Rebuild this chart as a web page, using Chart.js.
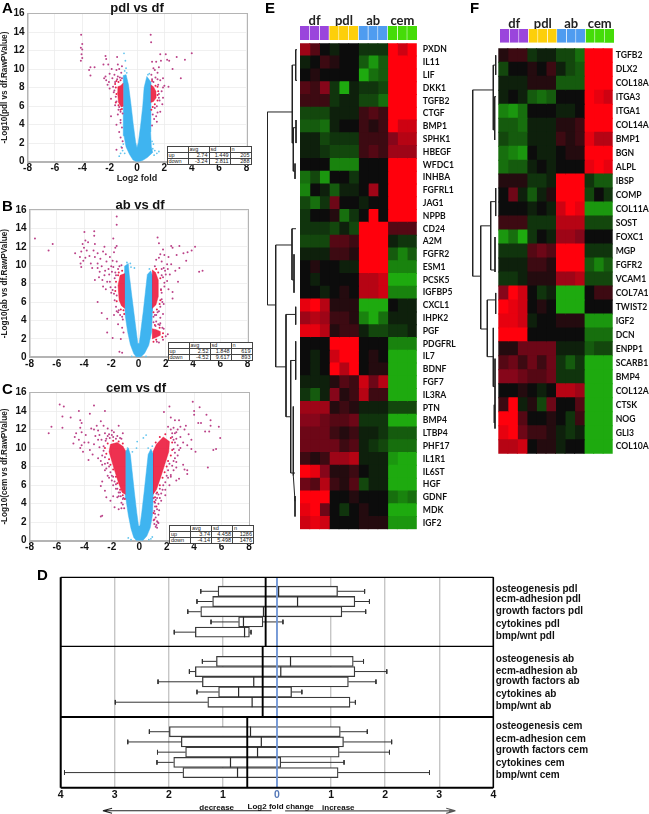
<!DOCTYPE html>
<html><head><meta charset="utf-8">
<script src="https://cdn.jsdelivr.net/npm/chart.js@4"></script>
<style>
html,body{margin:0;padding:0;background:#fff;width:649px;height:814px;overflow:hidden}
#page{position:absolute;left:0;top:0;width:649px;height:814px;filter:blur(0.35px);font-family:"Liberation Sans",Arial,sans-serif}
canvas{position:absolute}
.t{position:absolute;font-weight:bold;color:#111;white-space:nowrap;transform:translate(-50%,-50%)}
.l{position:absolute;font-weight:bold;color:#000;font-size:16px;line-height:16px}
table.s{position:absolute;border-collapse:collapse;font-size:5.5px;line-height:5px;table-layout:fixed;background:#fff;color:#222}
table.s td{border:0.8px solid #444;padding:0 1px;height:4.1px;width:18px;text-align:right;overflow:hidden;white-space:nowrap}
table.s td:first-child{text-align:left}
table.s tr:first-child td{text-align:left}
</style></head><body><div id="page"></div>
<script>
/* ---------- panel A-C: volcano plots ---------- */
const tableHead = ['', 'avg', 'sd', 'n'];
const statsA = [['up','2.74','1.449','205'],['down','-3.24','2.811','288']];
const statsB = [['up','2.52','1.848','619'],['down','-4.52','9.617','893']];
const statsC = [['up','3.74','4.458','1286'],['down','-4.14','5.498','1476']];

const coreA = [[-0.05,0],[-0.3,0.2],[-0.55,0.8],[-0.8,1.6],[-0.95,2.8],[-1.02,5],[-1.02,7.5],[-0.97,9.3],[-0.8,9.4],[-0.62,8.3],[-0.45,6.3],[-0.27,4],[-0.1,2.1],[0,1.5],[0.1,2.1],[0.27,4],[0.42,6],[0.52,8],[0.72,9.2],[1.02,8.6],[1.02,6],[0.97,3.2],[1.05,1.6],[1.15,1],[0.75,0.45],[0.4,0.12],[0.1,0]];
const looseA = [[-0.95,11.7],[-0.85,10.9],[-0.8,10.1],[-0.9,9.8],[-0.75,9.6],[0.9,9.5],[0.8,9.4],[1.15,1.4],[1.3,1.2],[1.45,0.9],[1.6,1.1],[1.25,0.7],[-1.05,1.2],[-1.2,0.9],[-0.9,0.9],[-1.3,0.6],[-1,1.9],[1.1,2.2],[1.2,1.9],[-1.15,1.6]];
const denseA = [[-1,6],[-1.15,5.9],[-1.35,6.4],[-1.42,7.5],[-1.4,8.1],[-1.2,8.2],[-1,8.5]];
const denseA2 = [[1,6.4],[1.2,6.5],[1.4,6.9],[1.38,7.6],[1.2,8.1],[1,8.3]];
const dotsA = [[-1.55,6.4],[-1.5,7.3],[-1.55,8],[-1.6,8.4],[-1.5,8.7],[-1.35,8.6],[-1.2,8.8],[-1.1,5.7],[-1.2,5.6],[-1.35,6.1],[1.5,7.2],[1.55,7.6],[1.5,6.6],[1.3,6.2],[1.15,5.9],[1.35,8.2],[1.5,8.1],[1.1,8.7],[1.05,5.6]];
const sigA = [[-4.08,13.7],[-4,12.7],[-4.1,12.3],[-4,12.1],[-4.05,11.6],[-4,11.2],[-4.1,10.9],[-3.4,10.2],[-3.5,9.9],[-3.1,10.2],[-3.4,9.3],[-2.3,11.4],[-2.25,11.1],[-2.1,10.5],[-2.45,10.5],[-1.45,11.3],[-1.4,10.5],[-2.3,9.2],[-2.25,8.8],[-2.15,8.3],[-2.4,9],[-2,7.9],[-2,9.5],[-1.85,10],[-1.8,9],[-1.75,8.1],[-1.7,7.5],[-1.65,9.4],[-1.6,8.6],[-1.55,7],[-1.5,9.9],[-1.5,6.5],[-1.45,8.9],[-1.4,9.2],[-1.35,5.6],[-1.3,5.9],[-1.3,10],[-1.25,9.1],[-1.2,5.4],[-1.15,9.6],[-1.1,10.3],[-1.6,6.1],[-1.9,6.8],[-2.05,8.6],[-1.9,4.9],[-1.5,4],[-1.4,5.1],[-1.3,3.2],[-1.2,4.5],[-1.1,3.7],[-1.2,2.6],[-1.05,2.2],[-1.5,1.3],[-1.1,1.5],[-1.65,7.7],[-1.2,4.2],[-1.05,5.2],[-1.1,9],
[1,13.7],[1.03,12.9],[4,11.7],[2.9,11.3],[3.5,11],[2.6,10],[3.2,9],[2.3,8.1],[1.9,8],[1.4,10.8],[1.7,11.6],[1.6,10.2],[1.75,10.9],[2.1,11.6],[2.2,11],[2.35,10.9],[1.2,10.1],[1.5,9.6],[1.35,9.1],[1.1,8.9],[1.7,8.8],[1.9,9],[2,8.2],[1.55,8.3],[1.2,8.6],[1.8,7.6],[1.6,7.3],[1.65,6.6],[1.85,6.2],[1.45,6],[1.5,5.3],[1.3,5.8],[1.7,5.4],[1.4,4.9],[1.25,4.6],[1.15,5.1],[1.45,4.3],[1.1,3.9],[1.6,6.9],[1.9,6.9],[1.1,10.8],[1.3,9.9],[1.05,9.4],[1.5,8.9]];

const coreB = [[-0.15,0],[-0.35,0.4],[-0.6,1.4],[-0.8,2.8],[-0.97,4.5],[-1.02,6.5],[-1.02,9.9],[-0.75,10.2],[-0.68,9],[-0.52,7],[-0.35,5],[-0.18,3],[-0.05,1.5],[0.05,1.5],[0.18,3],[0.35,5],[0.5,7],[0.65,9],[0.9,9.4],[1.02,8.9],[1.02,5],[0.97,2.8],[0.75,1.3],[0.45,0.45],[0.15,0]];
const looseB = [[-0.6,10.2],[-0.55,9.8],[-0.3,9.7],[-0.85,10.3],[0.8,9.6],[0.55,0.1],[-0.5,0.1]];
const denseB = [[-1,5.3],[-1.25,5.6],[-1.42,6.2],[-1.5,7.8],[-1.35,8.9],[-1,9.1]];
const denseB2 = [[1,5.3],[1.28,5.7],[1.45,6.6],[1.45,8.4],[1.25,9.2],[1,9.5]];
const denseB3 = [[1,2],[1.35,2.2],[1.6,2.4],[1.6,2.8],[1.3,3],[1,3.1]];
const dotsB = [[-1.6,6.1],[-1.7,7.2],[-1.65,8.2],[-1.5,8.9],[-1.45,9.2],[-1.2,9.4],[-1.1,5.1],[-1.3,5.2],[-1.05,4.7],[1.6,6.2],[1.65,7.3],[1.6,8.6],[1.45,9.2],[1.3,9.6],[1.1,4.9],[1.35,5.2],[1.55,5.8],[1.8,2.6],[1.75,2.2],[1.55,3.2],[1.2,3.5],[1.1,1.7],[1.3,1.9]];
const sigB = [[-7.6,12.9],[-6.3,12.3],[-6.6,11.6],[-4.65,11.3],[-3.97,13.6],[-3.25,13.7],[-1.6,15.3],[-1.6,14.4],[-1.85,12.9],[-3.25,13.2],[-3.9,12.7],[-4.1,12.3],[-3.7,12.5],[-4,11.9],[-3.2,12.3],[-3.8,11.6],[-4.2,11.5],[-4.3,10.9],[-4.05,10.5],[-4.25,10.2],[-4.2,9.8],[-3.9,10.8],[-3.6,11],[-3.5,10.2],[-3.2,10.9],[-3.3,11.6],[-3,11.3],[-3,10.2],[-3.4,9.7],[-2.8,10.7],[-2.7,9.9],[-2.6,11.5],[-2.5,12],[-2.4,11.2],[-2.35,10.4],[-2.5,8.9],[-2.9,8.7],[-3.2,8.4],[-2.2,9.6],[-2.1,10.9],[-2.1,8.2],[-2.4,7.4],[-2.6,7.7],[-1.95,9.3],[-1.9,10.5],[-1.8,11.4],[-1.7,11.9],[-1.6,12.1],[-1.75,8.6],[-1.6,10.4],[-1.5,9.6],[-1.4,9.9],[-1.25,10],[-1.8,6.9],[-1.7,7.6],[-2,7],[-3,6],[-2.7,4.8],[-2.3,4.2],[-2.3,2.7],[-1.9,2.1],[-1.5,3.6],[-1.3,2],[-1.4,0.6],[-1.2,0.5],[-1.6,5],[-1.8,4.6],[-1.35,4.6],[-1.2,3.2],[-1.5,4.9],[-1.15,4.1],[-1.1,2.7],
[1.4,13],[1.5,12.4],[2.4,12.1],[2.5,11.9],[3,12.1],[3.3,11.3],[3.6,11.4],[3.9,11.6],[4.15,12],[3.5,10.5],[4.45,9.3],[4.7,9.4],[2.8,11.1],[2.7,9.4],[3,9.7],[2.9,8.2],[2.2,10.9],[2.1,10.1],[1.9,11.1],[1.8,11.7],[1.6,11.2],[1.7,10.4],[1.5,10.8],[1.3,10.6],[1.2,9.9],[1.95,9.4],[1.7,9.6],[2.3,9],[2.1,8.3],[1.8,8.7],[1.65,7.4],[1.9,7.7],[2.2,7.4],[2.5,7.1],[2.5,6.4],[1.7,6.3],[1.85,5.8],[1.6,5.5],[1.4,4.9],[1.2,4.6],[1.6,4.3],[1.8,4.7],[1.3,3.9],[1.1,3.8],[1.55,3.5],[1.85,3.1],[2,2.3],[2.15,2.5],[1.8,1.9],[1.1,4.4],[1.35,1.7],[1.5,1.6]];
const extraSigB = [[-3,9.7],[-2.85,9.3],[-2.65,8.4],[-2.45,9.4],[-2.3,8.2],[-2.15,9],[-2,9.9],[-1.85,9.8],[-1.7,9.2],[-1.65,8.9],[-2.05,7.6],[-1.9,7.3],[-1.75,6.2],[-1.6,6.7],[-1.65,5.5],[-1.45,5.1],[-1.2,4.4],[1.7,8.9],[1.85,9.7],[2,9],[2.15,9.6],[2.4,10.1],[1.9,8.1],[1.7,7],[1.75,6],[1.5,5],[1.3,4.6],[1.45,3.6],[1.25,3.4],[1.6,3.7],[1.75,3.2]];

const coreC = [[-0.2,0],[-0.4,0.35],[-0.6,1.3],[-0.8,2.8],[-0.97,4.5],[-1.02,6.5],[-1.02,9.6],[-0.8,10],[-0.65,9.3],[-0.52,7.5],[-0.36,5.3],[-0.18,3],[-0.05,1.6],[0.05,1.6],[0.18,3],[0.36,5.3],[0.52,7.5],[0.65,9.3],[0.85,9.9],[1.02,9.4],[1.02,5],[0.97,2.8],[0.8,1.4],[0.55,0.5],[0.25,0]];
const looseC = [[-0.85,10],[-0.5,9.6],[-0.2,10],[-0.15,10.7],[0.3,11.1],[0.5,11.4],[0.95,10.2],[0.65,10],[0.85,0.2],[0.95,0.4],[0.7,0.1],[-0.6,0.1],[-0.8,0.3]];
const denseC = [[-1,5],[-1.25,5.2],[-1.5,6.2],[-1.8,7.6],[-2,8.6],[-2.2,9.6],[-2.1,10.4],[-1.6,10.6],[-1.2,10.2],[-1,9.7]];
const denseC2 = [[1,5],[1.25,5.5],[1.55,6.8],[1.85,8.2],[2.15,9.6],[2.2,10.7],[1.75,11.2],[1.25,10.4],[1,9.6]];
const dotsC = [[-1.9,10.8],[-2.3,10.5],[-2.5,10],[-2.4,9.4],[-2.2,8.8],[-2.1,8.2],[-1.9,7.7],[-1.7,6.9],[-1.6,6.2],[-1.4,5.5],[-1.2,4.9],[-1.05,4.5],[-1.5,10.7],[-1.2,10.5],[2.3,11.1],[2.4,10.6],[2.4,9.8],[2.3,9.2],[2.1,8.6],[2,8],[1.85,7.4],[1.7,6.8],[1.5,6],[1.3,5.2],[1.15,4.7],[1.9,11.5],[1.5,11.2],[1.2,10.6],[1.1,4.2],[1.25,3.7],[1.05,3],[1.1,2.3]];
const sigC = [[-5.8,14.7],[-5.5,14.5],[-3.3,14.6],[-4.4,14],[-2.5,14],[-6.4,12.3],[-6.6,11.6],[-5.6,12.2],[-5.6,13.4],[-5,13.3],[-4.3,13],[-4.2,12.7],[-3.6,13.7],[-4.3,12.2],[-4.2,11.7],[-4.6,11.6],[-4.7,11.2],[-4.8,10.5],[-4.4,10.9],[-4.2,10.3],[-4.3,10],[-4.1,9.6],[-4,10.6],[-3.9,11.4],[-3.7,10.6],[-3.6,9.8],[-3.5,12.1],[-3.3,12],[-3.2,11.3],[-3.1,12.4],[-3,11.9],[-3,10.9],[-2.9,10.1],[-3.3,10.4],[-3.4,9.3],[-3.7,8.7],[-3,8.9],[-2.8,12.9],[-2.6,12.4],[-2.5,11.6],[-2.4,11],[-2.3,12.1],[-2.2,11.5],[-2.6,9.7],[-2.7,8.2],[-2.5,9],[-2,11.9],[-1.9,11.2],[-1.7,11],[-1.5,12.4],[-1.3,11],[-1.2,11.6],[-2.5,7.6],[-2.2,8],[-2.3,7],[-2,7],[-2,6.5],[-1.9,6],[-2.8,5.9],[-2.7,6.4],[-2.5,5.4],[-2.4,4.7],[-2.1,4.3],[-1.9,4.8],[-1.7,5.6],[-1.6,4.7],[-1.8,3.6],[-1.5,3.4],[-1.3,4.1],[-1.2,3.9],[-1.1,3.5],[-2.8,2.6],[-2.7,2.7],[-1.5,5.2],[-1.35,4.8],[-1.15,4.6],
[3.9,15],[4.4,14.4],[4,14],[4,13.6],[4.9,13.6],[5.2,13],[5.2,12.4],[5.8,12.3],[4.3,12.7],[4.5,12.7],[3.4,12.4],[5.1,11.8],[4.8,11.8],[5.9,11.1],[5.6,9.9],[5.4,9.8],[5,7.9],[4.1,9.6],[2.2,14.5],[1.8,13.9],[2.3,13.3],[2.6,13],[2.9,13],[3,11.2],[3.3,12],[3.6,11.5],[3.8,10.9],[3.2,10.6],[3.5,10.3],[3.8,9.9],[3,10],[3.2,8.2],[3.3,7.7],[3.5,7.6],[3.5,7.2],[2.5,12.2],[2.7,11.7],[2.7,11],[2.8,10.3],[2.6,9.5],[2.6,10.6],[2.4,11.6],[2.3,12],[2.1,12.3],[2.5,8.6],[2.7,7.9],[2.5,7.6],[2.4,8.1],[2.3,7.1],[2.7,6.5],[2.9,6.7],[2.1,6.8],[2.2,6],[1.9,6.3],[1.7,5.5],[1.5,5.6],[1.9,4.9],[1.6,4.3],[1.3,4.6],[1.15,4.1],[1.3,3.4],[1.1,3.2],[1.4,2.8],[1.2,2.5],[1.35,2],[1.1,1.8],[1.3,1.4],[1.15,3.7],[1.4,4],[1.25,5.1],[1.05,2.2],[1.2,1.5],[1.45,3.3]];
const extraSigC = [[-2.9,11.4],[-2.75,10.9],[-2.6,10.2],[-2.45,10.8],[-2.3,11.3],[-2.15,11.1],[-2,11.4],[-1.85,11.7],[-1.6,11.3],[-1.4,11.1],[-2.7,9.2],[-2.8,8.6],[-2.5,8.3],[-2.4,7.8],[-2.3,8.4],[-2.1,7.4],[-1.9,6.9],[-2.2,6.8],[-1.8,6.4],[-1.7,6.1],[-1.6,5.6],[-1.5,4.8],[-1.4,5.2],[-1.3,3.5],[-1.2,4.5],[3,12.3],[2.8,12],[2.6,11.6],[2.5,10.9],[2.4,11.2],[2.9,9.8],[2.8,9.2],[2.6,8.9],[2.5,9.9],[2.7,8.5],[2.2,8.3],[2.3,6.9],[2.1,7.6],[2,7],[1.9,5.5],[1.75,6],[1.6,5.1],[1.5,4.6],[1.4,5],[1.2,4.4],[1.05,4.6],[1.3,2.1],[1.15,2.9],[1.4,1.9],[1.25,1.7]];

/* ---------- panel D: box plot ---------- */
const boxLabels = ['osteogenesis pdl','ecm-adhesion pdl','growth factors pdl','cytokines pdl','bmp/wnt pdl','osteogenesis ab','ecm-adhesion ab','growth factors ab','cytokines ab','bmp/wnt ab','osteogenesis cem','ecm-adhesion cem','growth factors cem','cytokines cem','bmp/wnt cem'];
const labelSlots = [1.15,2.13,3.37,4.57,5.75,8.07,9.15,10.22,11.46,12.58,14.63,15.84,16.94,18.19,19.36];
const rowSlots = [1.37,2.37,3.37,4.37,5.37,8.23,9.23,10.23,11.23,12.23,15.12,16.12,17.12,18.12,19.12];
const whiskerLow = [-1.41,-1.48,-1.65,-1.22,-1.90,-1.38,-1.62,-2.2,-1.48,-2.99,-2.36,-2.76,-2.21,-2.22,-3.93];
const quart1 = [-1.09,-1.19,-1.41,-0.71,-1.51,-1.12,-1.51,-1.38,-1.08,-1.28,-1.99,-1.77,-1.69,-1.91,-1.74];
const medians = [0.03,0.38,-0.25,-0.62,-0.60,0.25,0.07,-0.43,-0.71,-0.46,-0.49,-0.29,-0.36,-0.86,-0.73];
const quart3 = [1.12,1.44,1.20,-0.26,-0.51,1.41,1.44,1.32,0.27,1.35,1.17,1.23,1.15,0.07,1.13];
const whiskerHigh = [1.62,1.71,1.64,0.11,-0.48,1.60,2.03,1.83,0.46,1.45,1.67,2.12,2.08,1.24,2.82];
const groupMedian = [-0.21,-0.265,-0.55];
const boxTicks = [-4,-3,-2,-1,0,1,2,3,4];

/* ---------- panels E, F: heat maps (value -10 green .. +10 red) ---------- */
const groupNames = ['df','pdl','ab','cem'];
const groupColors = ['#9a45dc','#fdcf0a','#4f9cf0','#45dc08'];
const genesE = ['PXDN','IL11','LIF','DKK1','TGFB2','CTGF','BMP1','SPHK1','HBEGF','WFDC1','INHBA','FGFRL1','JAG1','NPPB','CD24','A2M','FGFR2','ESM1','PCSK5','IGFBP5','CXCL1','IHPK2','PGF','PDGFRL','IL7','BDNF','FGF7','IL3RA','PTN','BMP4','LTBP4','PHF17','IL1R1','IL6ST','HGF','GDNF','MDK','IGF2'];
const heatE = [
[6,3,0,-1,0,0,-2,-2,-2,10,8,10],[-1,0,2,1,0,0,-4,-7,-4,10,10,10],[0,1,0,0,0,0,-8,-5,-4,10,10,10],[3,2,5,-2,-8,-1,-2,-2,-3,10,10,10],[2,2,2,-2,-1,-1,-3,-3,-5,10,10,10],
[-3,-3,-3,-1,-1,-1,2,3,2,10,10,10],[-4,-4,-5,-1,0,0,2,1,2,10,8,8],[-1,-1,-3,-2,-2,-2,2,2,2,5,7,7],[-1,-1,-2,-3,-3,-3,2,3,2,6,6,6],[0,0,0,-6,-6,-6,0,0,0,10,10,10],
[-5,-3,-7,0,0,-2,0,0,0,10,10,10],[-6,0,-1,-4,-1,-1,0,6,0,10,10,10],[-3,-5,-2,4,0,0,-1,0,0,10,10,10],[-2,0,0,1,-5,-2,0,10,0,10,10,10],[-2,-2,-2,-3,-1,-3,10,10,10,3,3,3],
[-3,-3,-3,3,3,2,10,10,10,-1,-2,-2],[-1,-1,-1,2,2,1,10,10,10,-4,-6,-4],[0,1,0,0,-1,-1,10,10,10,-6,-6,-6],[0,-1,0,0,0,0,7,7,8,-8,-8,-8],[0,0,-1,0,1,0,7,7,8,-6,-6,-6],
[9,10,7,1,1,1,-8,-8,-8,0,-1,-1],[6,7,6,2,2,1,-6,-8,-5,-1,-1,-1],[9,9,7,1,2,2,-1,-3,-3,-2,-2,-1],[0,0,0,10,10,10,0,0,0,-6,-6,-6],[0,-1,0,8,10,10,0,1,0,-8,-8,-8],
[0,-1,0,10,7,10,0,1,1,-8,-8,-8],[-1,-1,-1,1,3,2,8,4,7,-8,-8,-8],[-2,-4,-1,5,1,2,7,2,2,-8,-8,-8],[6,6,6,1,2,1,-1,-1,-1,-3,-3,-3],[5,5,4,3,3,4,-2,-2,-2,-8,-8,-8],
[4,4,4,2,1,2,-1,-1,-2,-4,-4,-4],[4,4,4,4,2,3,-1,-2,-3,-5,-5,-5],[2,1,2,6,6,7,-1,-1,-1,-7,-8,-8],[10,9,5,1,1,2,0,-1,-1,-8,-8,-8],[4,3,7,2,1,3,-3,-1,-1,-8,-8,-8],
[10,10,10,0,0,1,0,0,0,-5,-6,-5],[9,10,4,0,-2,0,1,0,0,-8,-8,-8],[8,9,8,0,0,0,1,1,1,-7,-7,-7]];
const genesF = ['TGFB2','DLX2','COL18A1','ITGA3','ITGA1','COL14A1','BMP1','BGN','ALPL','IBSP','COMP','COL11A1','SOST','FOXC1','MGP','FGFR2','VCAM1','COL7A1','TWIST2','IGF2','DCN','ENPP1','SCARB1','BMP4','COL12A1','CTSK','NOG','GLI3','COL10A1'];
const heatF = [
[1,2,2,-2,-1,-1,-3,-3,-5,10,10,10],[-3,0,0,1,0,2,-1,-3,-4,10,10,10],[-1,-1,-1,1,1,1,-4,-4,-4,10,10,10],[-1,0,-1,-4,-5,-4,0,0,0,10,9,8],[-6,-7,-5,0,0,0,-1,-1,0,10,10,10],
[-4,-4,-5,-1,-1,-1,1,1,2,10,10,10],[-3,-4,-4,-1,-1,-1,2,1,2,9,7,7],[-5,-6,-7,0,-1,-1,0,1,1,10,10,10],[-5,-4,-4,-1,0,-1,0,0,0,9,10,9],[1,1,1,-2,-2,-1,10,10,10,-2,-4,-4],
[0,4,-1,-4,-1,1,10,10,10,-3,0,-2],[0,0,0,-1,0,-1,8,10,9,-7,-7,-7],[2,2,2,-2,-2,-2,7,7,7,-3,-3,-3],[-7,-5,-8,-2,0,-1,6,6,5,0,0,0],[-2,-2,-2,3,4,3,10,10,10,-2,-2,-2],
[-1,-1,-1,2,2,1,10,10,10,-4,-6,-4],[-2,-2,-1,1,1,1,6,6,7,-3,-3,-3],[5,10,8,0,-2,-1,-8,-8,-8,0,2,2],[10,9,8,0,1,0,-8,-8,-8,0,0,0],[9,9,8,-1,0,0,1,1,1,-7,-7,-7],
[10,10,10,0,0,0,0,0,0,-5,-5,-5],[1,1,4,4,4,4,-1,-1,-1,-4,-3,-3],[3,4,2,4,2,4,-2,-4,-2,-8,-8,-8],[5,5,4,3,3,4,-2,-2,-2,-8,-8,-8],[0,0,1,0,-1,0,7,7,6,-8,-8,-8],
[2,10,-1,1,-3,4,0,0,3,-8,-8,-8],[10,10,3,0,0,1,0,-2,2,-8,-8,-8],[9,10,4,2,2,1,-1,-2,-1,-8,-8,-8],[7,7,8,0,1,1,-1,0,0,-8,-8,-8]];
/* dendrogram links [distance1,row1,distance2,row2] */
const treeE = [[0.3,5.37,0.3,20.46],[0.3,5.37,25.3,5.37],[0.3,20.46,8.7,20.46],[25.3,1.7,25.3,7.8],[25.3,1.7,28.7,1.7],[28.7,0.5,28.7,2.9],[28.7,0.5,30,0.5],[28.7,2.9,30,2.9],[25.3,7.8,26.3,7.8],[26.3,6.6,26.3,10],[26.3,6.6,29,6.6],[29,6,29,7.8],[26.3,10,28,10],[28,9.4,28,10.6],
[8.7,15.77,8.7,25.3],[8.7,15.77,25,15.77],[25,14.5,25,18.5],[25,14.5,29,14.5],[25,18.5,27,18.5],[27,16.5,27,19.5],[8.7,25.3,19,25.3],[19,21.2,19,29.2],[19,21.2,28.7,21.2],[28.7,20.6,28.7,22],[19,29.2,23.7,29.2],[23.7,24.8,23.7,33.6],[23.7,24.8,28.7,24.8],[28.7,23.3,28.7,26.3],[23.7,33.6,28,33.6],[26.3,28.4,26.3,33.8],[28,35.4,28,37],[26.3,33.8,28,35.8]];
const treeF = [[0.7,2.98,0.7,16.3],[0.7,2.98,21.3,2.98],[21.3,1.2,21.3,5.84],[21.3,1.2,23.7,1.2],[23.7,0.5,23.7,1.9],[21.3,5.84,22.7,5.84],[22.7,3.46,22.7,6.56],[22.7,3.46,24,3.46],[0.7,16.3,8.7,16.3],[8.7,12.7,8.7,20.08],[8.7,12.7,18.7,12.7],[18.7,10.97,18.7,15.86],[18.7,10.97,23.7,10.97],[23.7,10,23.7,12],[18.7,15.86,23,15.86],[23,13.5,23,16],
[8.7,20.08,15.3,20.08],[15.3,18,15.3,22.06],[15.3,18,23.7,18],[23.7,17.5,23.7,19],[15.3,22.06,21.3,22.06],[21.3,20,21.3,24.2],[21.3,24.2,23,24.2],[23,22.2,23,27.2],[22.3,25.5,22.3,26.8]];

/* ---------- helpers ---------- */
const page = document.getElementById('page');
const FONT = '"Liberation Sans",Arial,sans-serif';
function mk(left, top, w, h){ const c=document.createElement('canvas'); c.width=w; c.height=h; c.style.left=left+'px'; c.style.top=top+'px'; c.style.width=w+'px'; c.style.height=h+'px'; page.appendChild(c); return c; }
function text(s,x,y,size,cls){ const d=document.createElement('div'); d.className=cls||'t'; d.textContent=s; d.style.left=x+'px'; d.style.top=y+'px'; d.style.fontSize=size+'px'; page.appendChild(d); return d; }
function fixW(w){ return s=>{ s.paddingTop=s.paddingBottom=s.paddingLeft=s.paddingRight=0; s.width=w; }; }
function fixH(h){ return s=>{ s.paddingTop=s.paddingBottom=s.paddingLeft=s.paddingRight=0; s.height=h; }; }
const xy = p=>({x:p[0],y:p[1]});
const BASE = {responsive:false,animation:false,devicePixelRatio:1,events:[],plugins:{legend:{display:false},tooltip:{enabled:false}}};

function volcano(o){
  const L=o.plot[0],T=o.plot[1],R=o.plot[2],B=o.plot[3];
  const cl=0, ct=Math.floor(T)-6, cw=Math.ceil(R)+5, ch=Math.ceil(B)+ (o.xTitle?22:16) - ct;
  const fill=(pts,col,ord)=>({data:pts.map(xy),showLine:true,fill:'shape',backgroundColor:col,borderColor:col,borderWidth:0.5,pointRadius:0,order:ord});
  const ds=[fill(o.core,'#3fb4f0',9),
    {data:o.loose.map(xy),backgroundColor:'#62c4ee',borderWidth:0,pointRadius:0.9,order:8}];
  o.dense.forEach(d=>ds.push(fill(d,'rgba(236,21,56,0.88)',5)));
  ds.push({data:o.dots.map(xy),backgroundColor:'#e8204a',borderWidth:0,pointRadius:1,order:3});
  ds.push({data:o.sig.map(xy),backgroundColor:'#bb4288',borderWidth:0,pointRadius:1,order:2});
  new Chart(mk(cl,ct,cw,ch),{type:'scatter',data:{datasets:ds},options:{...BASE,
    layout:{padding:{top:T-ct,right:cw-R,left:0,bottom:0}},
    scales:{
      x:{type:'linear',min:-8,max:8,afterBuildTicks:s=>{s.ticks=[-8,-6,-4,-2,0,2,4,6,8].map(v=>({value:v}))},afterFit:fixH(ct+ch-B),
        grid:{color:'#ececec',lineWidth:0.8,drawTicks:false},border:{color:'#b4b4b4',width:2},
        ticks:{color:'#111',font:{family:FONT,weight:'bold',size:10},padding:1,maxRotation:0,autoSkip:false},
        title:o.xTitle?{display:true,text:o.xTitle,color:'#222',font:{family:FONT,weight:'bold',size:9},padding:{top:0,bottom:0}}:{display:false}},
      y:{type:'linear',min:0,max:16,afterBuildTicks:s=>{s.ticks=[0,2,4,6,8,10,12,14,16].map(v=>({value:v}))},afterFit:fixW(L),
        grid:{color:'#ececec',lineWidth:0.8,drawTicks:false},border:{color:'#b4b4b4',width:1.5},
        ticks:{color:'#111',font:{family:FONT,weight:'bold',size:10},padding:3},
        title:{display:true,text:o.yTitle,color:'#222',font:{family:FONT,weight:'bold',size:8.2},padding:{top:0,bottom:0}}}
    }}});
  const f=document.createElement('div');
  f.style.cssText=`position:absolute;left:${L}px;top:${T-1}px;width:${R-L}px;height:${B-T}px;border-top:1.5px solid #b4b4b4;border-right:1.5px solid #b4b4b4;pointer-events:none`;
  page.appendChild(f);
  const t=document.createElement('table'); t.className='s';
  t.style.left=o.table[0]+'px'; t.style.top=o.table[1]+'px'; t.style.width=o.table[2]+'px';
  [tableHead,...o.stats].forEach(r=>{const tr=t.insertRow(); r.forEach(v=>{tr.insertCell().textContent=v;});});
  page.appendChild(t);
}

function cellColor(v){
  const a=Math.abs(v)/10;
  if(v>=0) return `rgb(${Math.round(12+243*a)},${Math.round(12-12*a)},${Math.round(12+ (a<0.5?a*28:14-(a-0.5)*28))})`;
  return `rgb(${Math.round(12+22*a)},${Math.round(12+198*a)},${Math.round(12+4*a)})`;
}
function heatmap(o){
  const ds=[];
  for(let j=0;j<12;j++) ds.push({data:o.genes.map(()=>1),backgroundColor:o.heat.map(r=>cellColor(r[j])),borderWidth:0,barPercentage:1,categoryPercentage:1,inflateAmount:0.5});
  const L=o.plot[0],T=o.plot[1],R=o.plot[2],B=o.plot[3];
  const ct=Math.floor(T), ch=Math.ceil(B)-ct, cl=Math.floor(L), cw=o.rightEdge-cl;
  new Chart(mk(cl,ct,cw,ch),{type:'bar',data:{labels:o.genes,datasets:ds},options:{...BASE,indexAxis:'y',
    layout:{padding:{left:L-cl,top:T-ct,bottom:ct+ch-B,right:0}},
    scales:{x:{display:false,type:'linear',min:0,max:12,stacked:true},
      y:{position:'right',stacked:true,afterFit:fixW(o.rightEdge-R),grid:{display:false,drawTicks:false},border:{display:false},
         ticks:{color:'#111',font:{family:'Lato',weight:'bold',size:o.fs},padding:o.pad,autoSkip:false,crossAlign:'near'}}}}});
  const bar=[]; for(let j=0;j<12;j++) bar.push({data:[1],backgroundColor:groupColors[Math.floor(j/3)],borderColor:'rgba(255,255,255,0.75)',borderWidth:{right:j<11?0.8:0},borderSkipped:false,barPercentage:1,categoryPercentage:1});
  const sL=o.strip[0],sT=o.strip[1],sR=o.strip[2],sB=o.strip[3];
  const bt=sT-o.head, cT=Math.floor(bt);
  new Chart(mk(Math.floor(sL),cT,Math.ceil(sR)-Math.floor(sL),Math.ceil(sB)-cT),{type:'bar',data:{labels:[''],datasets:bar},options:{...BASE,indexAxis:'y',
    layout:{padding:{left:sL-Math.floor(sL),right:Math.ceil(sR)-sR,top:0,bottom:Math.ceil(sB)-sB}},
    scales:{y:{display:false,stacked:true},
      x:{position:'top',type:'linear',min:0,max:12,stacked:true,afterFit:fixH(sT-cT),afterBuildTicks:s=>{s.ticks=[1.5,4.5,7.5,10.5].map(v=>({value:v}))},
         grid:{display:false,drawTicks:false},border:{display:false},
         ticks:{callback:(v,i)=>groupNames[i],color:'#222',font:{family:'Lato',weight:'bold',size:13},padding:-3,autoSkip:false,maxRotation:0}}}}});
  const pts=[]; o.tree.forEach(s=>{pts.push({x:s[0],y:s[1]},{x:s[2],y:s[3]},{x:null,y:null});});
  const dl=o.treeBox[0],dr=o.treeBox[1];
  new Chart(mk(dl,ct,dr-dl,ch),{type:'scatter',data:{datasets:[{data:pts,showLine:true,spanGaps:false,borderColor:'#222',borderWidth:1,pointRadius:0}]},options:{...BASE,
    layout:{padding:{top:T-ct,bottom:ct+ch-B}},
    scales:{x:{display:false,type:'linear',min:0,max:dr-dl},y:{display:false,type:'linear',min:0,max:o.genes.length,reverse:true}}}});
}

/* ---------- build ---------- */
volcano({plot:[27.5,13.5,246.5,161.7],core:coreA,loose:looseA,dense:[denseA,denseA2],dots:dotsA,sig:sigA,stats:statsA,table:[166.5,145.5,80],yTitle:'-Log10(pdl vs df.RawPValue)',xTitle:'Log2 fold'});
volcano({plot:[29.5,210,247.5,357.3],core:coreB,loose:looseB,dense:[denseB,denseB2,denseB3],dots:dotsB,sig:sigB.concat(extraSigB),stats:statsB,table:[167.5,341.5,80],yTitle:'-Log10(ab vs df.RawPValue)'});
volcano({plot:[29.5,392.5,249,540.7],core:coreC,loose:looseC,dense:[denseC,denseC2],dots:dotsC,sig:sigC.concat(extraSigC),stats:statsC,table:[169,524.5,80],yTitle:'-Log10(cem vs df.RawPValue)'});

heatmap({plot:[300,43.3,416.8,529.3],genes:genesE,heat:heatE,rightEdge:462,fs:8.6,pad:6,strip:[300,26,417,40],head:20,tree:treeE,treeBox:[267,300]});
heatmap({plot:[498.3,48.3,612.7,453.7],genes:genesF,heat:heatF,rightEdge:649,fs:8.6,pad:3,strip:[500,29,614,42.7],head:20,tree:treeF,treeBox:[472,498]});

(function(){
  const links=(list)=>{const p=[];list.forEach(s=>{p.push({x:s[0],y:s[1]},{x:s[2],y:s[3]},{x:null,y:null});});return p;};
  const line=(segs,col,w,ord)=>({type:'line',data:links(segs),showLine:true,spanGaps:false,borderColor:col,borderWidth:w,pointRadius:0,order:ord,clip:false,tension:0});
  const whisk=[],med=[];
  rowSlots.forEach((r,i)=>{
    whisk.push([whiskerLow[i],r,quart1[i],r],[whiskerLow[i],r-0.22,whiskerLow[i],r+0.22],[quart3[i],r,whiskerHigh[i],r],[whiskerHigh[i],r-0.22,whiskerHigh[i],r+0.22]);
    med.push([medians[i],r-0.5,medians[i],r+0.5]);
  });
  const AY=22.86;
  const ds=[
    {type:'bar',data:rowSlots.map((r,i)=>({x:[quart1[i],quart3[i]],y:r})),backgroundColor:'#fff',borderColor:'#3a3a3a',borderWidth:1.3,borderSkipped:false,barThickness:10.2,order:6},
    line(whisk,'#333',1,5),line(med,'#2a2a2a',1.2,4),
    line([[0,0,0,20.6]],'#6f96d8',1.8,3),
    line([[groupMedian[0],0,groupMedian[0],6.76],[groupMedian[1],6.76,groupMedian[1],13.68],[groupMedian[2],13.68,groupMedian[2],20.6]],'#000',1.9,2),
    line([[-4,0,4,0],[-4,6.76,4,6.76]],'#000',1.3,1),
    line([[-4,13.68,4,13.68],[-4,20.6,4,20.6],[-4,0,-4,20.6]],'#000',2,1),
    line([[4,0,4,20.6]],'#000',1,1),
    line([[-3.22,AY,-0.1,AY],[-3.22,AY,-3.05,AY-0.25],[-3.22,AY,-3.05,AY+0.25],[-3.15,AY-0.12,-3.15,AY+0.12]],'#222',1.1,1),
    line([[0.15,AY,3.3,AY],[3.3,AY,3.13,AY-0.25],[3.3,AY,3.13,AY+0.25],[3.2,AY-0.12,3.2,AY+0.12]],'#555',1.2,1)
  ];
  const L=60.7,T=577.3,R=493.3,B=787.7,cl=30,ct=570,cw=649-cl,ch=814-ct;
  new Chart(mk(cl,ct,cw,ch),{type:'bar',data:{datasets:ds},options:{...BASE,indexAxis:'y',
    layout:{padding:{left:L-cl,top:T-ct,right:0,bottom:0}},
    scales:{
      x:{type:'linear',min:-4,max:4,afterBuildTicks:s=>{s.ticks=boxTicks.map(v=>({value:v}))},afterFit:fixH(ct+ch-B),
         grid:{color:'#c6c6c6',lineWidth:1.4,drawTicks:false},border:{display:false},
         ticks:{callback:v=>Math.abs(v),autoSkip:false,maxRotation:0,padding:1,font:{family:FONT,weight:'bold',size:10.5},color:c=>c.tick.value===0?'#5578b8':'#111'}},
      y:{type:'linear',position:'right',offset:false,min:0,max:20.6,reverse:true,afterFit:fixW(649-R),afterBuildTicks:s=>{s.ticks=labelSlots.map(v=>({value:v}))},
         grid:{display:false,drawTicks:false},border:{display:false},
         ticks:{callback:(v,i)=>boxLabels[i],autoSkip:false,crossAlign:'near',padding:2.5,color:'#111',font:{family:FONT,weight:'bold',size:10}}}
    }}});
})();

text('pdl vs df',137,7,13); text('ab vs df',140,203.5,13); text('cem vs df',136,386.5,13);
[['A',2,0],['B',2,198],['C',2,381],['D',37,567],['E',265,0],['F',470,0]].forEach(a=>text(a[0],a[1],a[2],15,'l'));
text('decrease',216.7,806.7,8); text('Log2 fold change',280.7,805.7,8); text('increase',338.3,806.7,8);
</script></body></html>
